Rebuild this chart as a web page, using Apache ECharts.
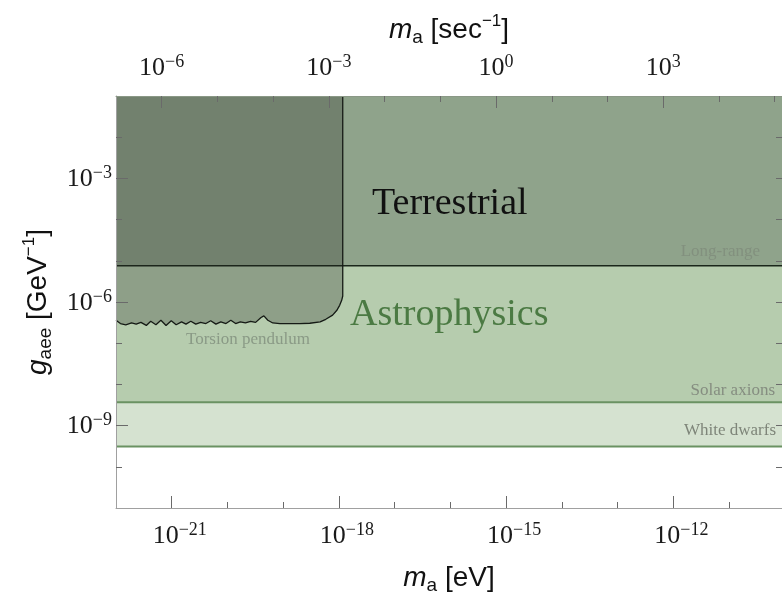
<!DOCTYPE html>
<html>
<head>
<meta charset="utf-8">
<script src="https://cdn.jsdelivr.net/npm/echarts@6/dist/echarts.min.js"></script>
<style>
html, body { margin: 0; padding: 0; background: #fff; }
#main { width: 782px; height: 600px; }
</style>
</head>
<body>
<div id="main"></div>
<script>
// plotted ranges
var massRange = [1e-22, 8.9e-11];      // eV
var couplingRange = [1e-11, 1e-1];     // GeV^-1
var hbarEVs = 6.582e-16;               // eV*s, for the sec^-1 axis

// tick exponents
var eVMajor = [-21, -18, -15, -12];
var eVMinor = [-20, -19, -17, -16, -14, -13, -11];
var secMajor = [-6, -3, 0, 3];
var secMinor = [-5, -4, -2, -1, 1, 2, 4, 5];
var gMajor = [-9, -6, -3];
var gMinor = [-10, -8, -7, -5, -4, -2];

// bounds (GeV^-1)
var whiteDwarfBound = 3.1e-10;
var solarBound = 3.7e-9;
var longRangeBound = 7.6e-6;

// torsion pendulum exclusion curve
var torsionMass = [1.0e-22, 1.2e-22, 1.5e-22, 1.9e-22, 2.3e-22, 2.8e-22, 3.5e-22, 4.2e-22,
    5.2e-22, 6.4e-22, 7.9e-22, 9.8e-22, 1.2e-21, 1.5e-21, 1.8e-21, 2.2e-21, 2.7e-21, 3.3e-21,
    4.1e-21, 5.0e-21, 6.2e-21, 7.6e-21, 9.4e-21, 1.15e-20, 1.4e-20, 1.7e-20, 2.1e-20, 2.6e-20,
    3.2e-20, 4.0e-20, 4.5e-20, 5.3e-20, 6.5e-20, 8.7e-20, 1.3e-19, 2.0e-19, 3.0e-19, 4.6e-19,
    5.8e-19, 7.7e-19, 9.1e-19, 1.03e-18, 1.12e-18, 1.17e-18, 1.17e-18];
var torsionG = [3.6e-7, 3.0e-7, 2.8e-7, 3.1e-7, 2.9e-7, 3.2e-7, 2.7e-7, 3.4e-7,
    2.8e-7, 3.6e-7, 2.7e-7, 3.5e-7, 2.8e-7, 3.3e-7, 2.9e-7, 3.4e-7, 2.9e-7, 3.2e-7,
    3.0e-7, 3.5e-7, 2.9e-7, 3.3e-7, 3.0e-7, 3.6e-7, 3.0e-7, 3.3e-7, 3.1e-7, 3.4e-7,
    3.2e-7, 4.2e-7, 4.6e-7, 3.6e-7, 3.1e-7, 3.0e-7, 3.0e-7, 3.0e-7, 3.05e-7, 3.3e-7,
    3.8e-7, 4.8e-7, 6.2e-7, 8.3e-7, 1.1e-6, 1.4e-6, 1e-1];

var log = Math.log10;
var secShift = -log(hbarEVs);
var xMin = log(massRange[0]), xMax = log(massRange[1]);
var yMin = log(couplingRange[0]), yMax = log(couplingRange[1]);

var serif = '"Liberation Serif", "DejaVu Serif", serif';
var sans = '"Liberation Sans", Arial, sans-serif';

function expLabel(v) {
    var e = Math.round(v);
    return '{b|10}{s|' + (e < 0 ? '\u2212' + (-e) : e) + '}';
}
var tickRich = {
    b: { fontFamily: serif, fontSize: 26, color: '#1a1a1a', verticalAlign: 'bottom', lineHeight: 28 },
    s: { fontFamily: serif, fontSize: 18, color: '#1a1a1a', verticalAlign: 'top', lineHeight: 18 }
};
var nameRich = {
    i: { fontFamily: sans, fontSize: 28, fontStyle: 'italic', color: '#111', lineHeight: 34 },
    n: { fontFamily: sans, fontSize: 28, color: '#111', lineHeight: 34 },
    sub: { fontFamily: sans, fontSize: 19, color: '#111', verticalAlign: 'bottom', lineHeight: 18 },
    sup: { fontFamily: sans, fontSize: 17, color: '#111', verticalAlign: 'top', lineHeight: 17 }
};

function axisBase(pos, min, max, ticks, len, withLine) {
    return {
        type: 'value', position: pos, min: min, max: max, z: 10,
        axisLine: { show: withLine, onZero: false, lineStyle: { color: '#a0a0a0', width: 1 } },
        axisTick: { show: true, inside: true, length: len, customValues: ticks,
            lineStyle: { color: '#6a6a6a', width: 1 } },
        axisLabel: { show: false },
        splitLine: { show: false }
    };
}

var xBottom = axisBase('bottom', xMin, xMax, eVMajor, 12, true);
xBottom.axisLabel = { show: true, customValues: eVMajor, margin: 13, formatter: expLabel, rich: tickRich, padding: [0, 0, 0, 16] };
xBottom.name = '{i|m}{sub|a}{n| [eV]}';
xBottom.nameLocation = 'middle';
xBottom.nameGap = 53;
xBottom.nameTextStyle = { rich: nameRich };

var xTop = axisBase('top', xMin + secShift, xMax + secShift, secMajor, 12, true);
xTop.axisLine.lineStyle.color = '#8a9886';
xTop.axisLabel = { show: true, customValues: secMajor, margin: 15, formatter: expLabel, rich: tickRich };
xTop.name = '{i|m}{sub|a}{n| [sec}{sup|\u22121}{n|]}';
xTop.nameLocation = 'middle';
xTop.nameGap = 49;
xTop.nameTextStyle = { rich: nameRich };

var yLeft = axisBase('left', yMin, yMax, gMajor, 12, true);
yLeft.axisLabel = { show: true, customValues: gMajor, margin: 4, formatter: expLabel, rich: tickRich };
yLeft.name = '{i|g}{sub|aee}{n| [GeV}{sup|\u22121}{n|]}';
yLeft.nameLocation = 'middle';
yLeft.nameRotate = 90;
yLeft.nameGap = 61;
yLeft.nameTextStyle = { rich: nameRich };

var option = {
    animation: false,
    backgroundColor: '#ffffff',
    grid: { left: 116, top: 96, right: -1, bottom: 90, containLabel: false },
    xAxis: [
        xBottom,
        axisBase('bottom', xMin, xMax, eVMinor, 6, false),
        xTop,
        axisBase('top', xMin + secShift, xMax + secShift, secMinor, 6, false)
    ],
    yAxis: [
        yLeft,
        axisBase('left', yMin, yMax, gMinor, 6, false),
        axisBase('right', yMin, yMax, gMajor.concat(gMinor), 6, false)
    ],
    series: [
        {
            name: 'White dwarfs', type: 'line', symbol: 'none', z: 2,
            data: [[xMin, log(whiteDwarfBound)], [xMax, log(whiteDwarfBound)]],
            lineStyle: { color: '#6a9262', width: 2 },
            areaStyle: { color: '#d5e2d0', opacity: 1, origin: 'end' }
        },
        {
            name: 'Solar axions', type: 'line', symbol: 'none', z: 3,
            data: [[xMin, log(solarBound)], [xMax, log(solarBound)]],
            lineStyle: { color: '#6a9262', width: 2 },
            areaStyle: { color: '#b6ccae', opacity: 1, origin: 'end' }
        },
        {
            name: 'Long-range', type: 'line', symbol: 'none', z: 4,
            data: [[xMin, log(longRangeBound)], [xMax, log(longRangeBound)]],
            lineStyle: { color: '#1a261a', width: 1.5 },
            areaStyle: { color: '#8fa38b', opacity: 1, origin: 'end' }
        },
        {
            name: 'Torsion pendulum', type: 'line', symbol: 'none', z: 5,
            data: torsionMass.map(function (m, i) { return [log(m), log(torsionG[i])]; }),
            lineStyle: { color: '#151a15', width: 1.3 },
            areaStyle: { color: 'rgba(38,38,32,0.27)', opacity: 1, origin: 'end' }
        }
    ],
    graphic: [
        { type: 'text', x: 372, y: 204, z: 20, style: { text: 'Terrestrial', font: '38px ' + serif, fill: '#111', verticalAlign: 'middle' } },
        { type: 'text', x: 350, y: 315, z: 20, style: { text: 'Astrophysics', font: '38px ' + serif, fill: '#4b7a43', verticalAlign: 'middle' } },
        { type: 'text', x: 760, y: 252, z: 20, style: { text: 'Long-range', font: '17px ' + serif, fill: '#82907e', align: 'right', verticalAlign: 'middle' } },
        { type: 'text', x: 186, y: 340, z: 20, style: { text: 'Torsion pendulum', font: '17px ' + serif, fill: '#8a9a86', verticalAlign: 'middle' } },
        { type: 'text', x: 775, y: 391, z: 20, style: { text: 'Solar axions', font: '17px ' + serif, fill: '#858d80', align: 'right', verticalAlign: 'middle' } },
        { type: 'text', x: 776, y: 431, z: 20, style: { text: 'White dwarfs', font: '17px ' + serif, fill: '#7e8579', align: 'right', verticalAlign: 'middle' } }
    ]
};

var chart = echarts.init(document.getElementById('main'), null, { renderer: 'canvas' });
chart.setOption(option);
</script>
</body>
</html>
